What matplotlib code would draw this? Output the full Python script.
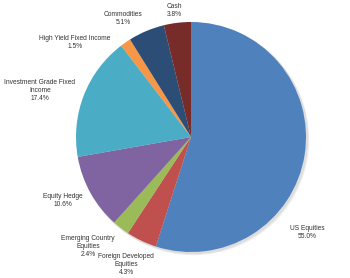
import matplotlib
matplotlib.use('Agg')
import matplotlib.pyplot as plt
from matplotlib.patches import Circle

# Allocation data
labels = ['US Equities', 'Foreign Developed\nEquities', 'Emerging Country\nEquities',
          'Equity Hedge', 'Investment Grade Fixed\nIncome', 'High Yield Fixed Income',
          'Commodities', 'Cash']
values = [55.0, 4.3, 2.4, 10.6, 17.4, 1.5, 5.1, 3.8]
colors = ['#4F81BD', '#C0504D', '#9BBB59', '#8064A2', '#4BACC6', '#F79646', '#2C4D75', '#772C2A']

# label anchor positions in pixels (x, y from top)
label_pos = [(307, 232), (126, 264), (88, 246), (63, 201), (40, 90), (75, 42), (123, 19), (174, 11)]

W, H = 350, 278
fig = plt.figure(figsize=(W / 100, H / 100), dpi=100)
ax = fig.add_axes([0, 0, 1, 1])

cx, cy, r = 191, H - 137, 115

# soft shadow
for off, c in [(2.5, '#eeeeee'), (1.5, '#dddddd')]:
    ax.add_patch(Circle((cx + off, cy - off), r, color=c, zorder=0))

ax.pie(values, colors=colors, startangle=90, counterclock=False,
       center=(cx, cy), radius=r, frame=True,
       wedgeprops=dict(linewidth=0))
ax.set_xlim(0, W)
ax.set_ylim(0, H)
ax.axis('off')

for lab, v, (px, py) in zip(labels, values, label_pos):
    ax.text(px, H - py, f'{lab}\n{v:.1f}%', ha='center', va='center',
            fontsize=4.8, color='#333333', family='Liberation Sans', linespacing=1.2)

fig.savefig('out.png', dpi=100)
